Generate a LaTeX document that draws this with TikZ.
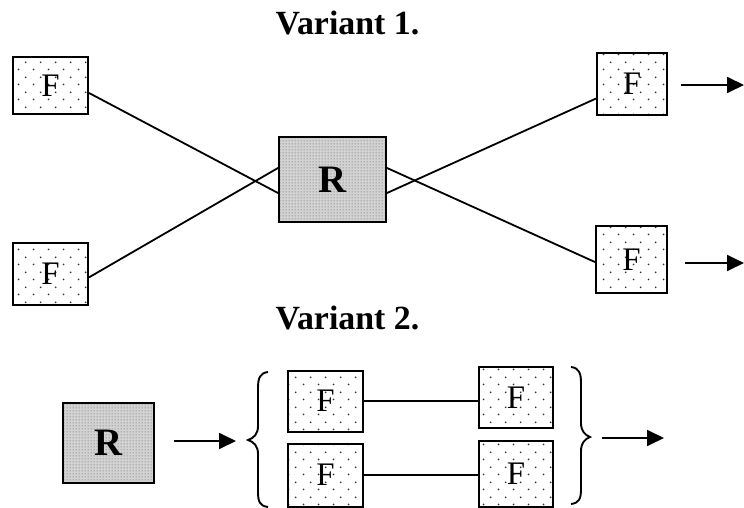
\documentclass[tikz,border=0pt]{standalone}
\usepackage{fontspec}
\setmainfont{Liberation Serif}
\usetikzlibrary{patterns,patterns.meta,arrows.meta}
\pgfdeclarepattern{name=sparsedots, type=uncolored,
  bottom left={\pgfpoint{0bp}{0bp}}, top right={\pgfpoint{15bp}{15bp}},
  tile size={\pgfpoint{15bp}{15bp}},
  code={\pgfpathcircle{\pgfpoint{3.75bp}{3.75bp}}{1bp}
        \pgfpathcircle{\pgfpoint{11.25bp}{11.25bp}}{1bp}
        \pgfusepath{fill}}}
\pgfdeclarepattern{name=densedots, type=uncolored,
  bottom left={\pgfpoint{0bp}{0bp}}, top right={\pgfpoint{3bp}{3bp}},
  tile size={\pgfpoint{3bp}{3bp}},
  code={\pgfpathcircle{\pgfpoint{1.5bp}{1.5bp}}{0.9bp}
        \pgfusepath{fill}}}
\tikzset{
  fbox/.style={draw, line width=2bp, pattern={sparsedots}, pattern color=black!80,
    minimum width=75bp, minimum height=60bp, inner sep=0pt,
    font=\fontsize{33}{36}\selectfont},
  rbox/.style={draw, line width=1.8bp, preaction={fill=gray!35}, pattern={densedots}, pattern color=gray!85,
    inner sep=0pt, font=\fontsize{39}{42}\selectfont\bfseries},
  title/.style={font=\fontsize{34}{40}\selectfont\bfseries, inner sep=0pt, anchor=base},
  link/.style={line width=1.8bp},
  arr/.style={line width=1.8bp, -{Triangle[length=17bp,width=16bp]}},
  brace/.style={line width=1.9bp}
}
\begin{document}
\begin{tikzpicture}[x=1bp,y=-1bp]
\useasboundingbox (0,0) rectangle (744,508);
% titles
\node[title] (t1) at (347.5,35) {Variant 1.};
\node[title] (t2) at (347.5,329) {Variant 2.};
% Variant 1
\node[fbox, minimum width=75bp, minimum height=57bp] (F1) at (50.5,85.5) {F};
\node[fbox, minimum width=75bp, minimum height=62bp] (F2) at (50.5,274) {F};
\node[rbox, minimum width=107bp, minimum height=85bp] (R1) at (332.5,179.5) {R};
\node[fbox, minimum width=70bp, minimum height=62bp] (F3) at (632,84) {F};
\node[fbox, minimum width=71bp, minimum height=67bp] (F4) at (631.5,259.5) {F};
\draw[link] (F1.-11) -- (R1.194);
\draw[link] (F2.-5) -- (R1.168);
\draw[link] (R1.12) -- (F4.184);
\draw[link] (R1.-14) -- (F3.202);
\coordinate (a1s) at (681,85);
\coordinate (a1e) at (744,85);
\coordinate (a2s) at (685,263);
\coordinate (a2e) at (744,263);
\draw[arr] (a1s) -- (a1e);
\draw[arr] (a2s) -- (a2e);
% Variant 2
\node[rbox, minimum width=91bp, minimum height=80bp] (R2) at (108.5,443) {R};
\node[fbox, minimum width=75bp, minimum height=61bp] (G1) at (325.5,401) {F};
\node[fbox, minimum width=75bp, minimum height=63bp] (G2) at (325.5,475) {F};
\node[fbox, minimum width=74bp, minimum height=61bp] (G3) at (516,397.5) {F};
\node[fbox, minimum width=74bp, minimum height=66bp] (G4) at (516,473.5) {F};
\draw[link] (G1.east) -- (G1.east -| G3.west);
\draw[link] (G2.east) -- (G2.east -| G4.west);
\coordinate (b1s) at (174,441);
\coordinate (b1e) at (236,441);
\coordinate (b2s) at (602,438);
\coordinate (b2e) at (664,438);
\draw[arr] (b1s) -- (b1e);
\draw[arr] (b2s) -- (b2e);
% braces
\draw[brace] (268,372) .. controls (260,373) and (258,378) .. (258,388)
  -- (258,426) .. controls (258,434) and (254,438) .. (248,440)
  .. controls (254,442) and (258,446) .. (258,454)
  -- (258,492) .. controls (258,502) and (260,506) .. (268,507);
\draw[brace] (571,367) .. controls (579,368) and (581,373) .. (581,383)
  -- (581,423) .. controls (581,431) and (585,435) .. (590,437)
  .. controls (585,439) and (581,443) .. (581,451)
  -- (581,489) .. controls (581,499) and (579,503) .. (571,504);
\end{tikzpicture}
\end{document}
